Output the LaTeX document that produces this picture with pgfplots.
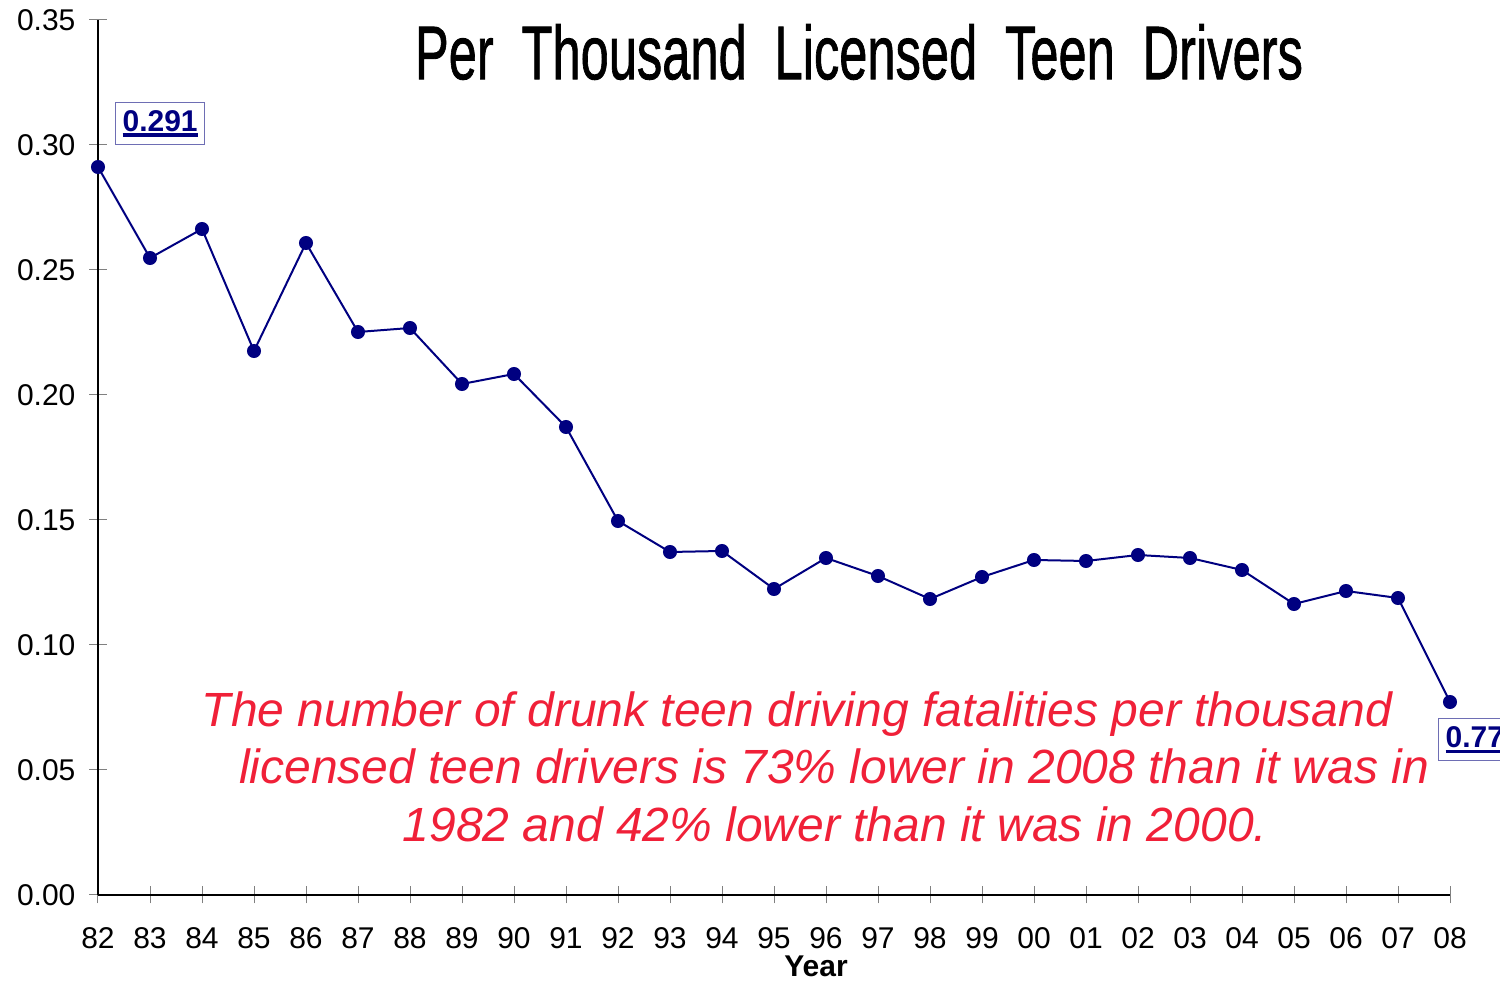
\documentclass[border=0pt]{standalone}
\usepackage{pgfplots}
\pgfplotsset{compat=1.18}
\usepackage{fontspec}
\setmainfont{Liberation Sans}
\definecolor{navyline}{RGB}{0,0,128}
\definecolor{redtxt}{RGB}{240,32,56}
\definecolor{boxedge}{RGB}{110,110,180}
\newcommand\ulb[1]{\setbox0\hbox{#1}\rlap{\raisebox{-2.8pt}{\rule{\wd0}{1.6pt}}}\box0}
\begin{document}
\begin{tikzpicture}
\useasboundingbox (0,0) rectangle (750pt,492pt);
\clip (0,0) rectangle (750pt,492pt);
\begin{axis}[
  at={(49pt,44.5pt)}, anchor=south west,
  scale only axis, width=676pt, height=437.5pt,
  xmin=0, xmax=26, ymin=0, ymax=0.35,
  axis lines*=left,
  axis line style={black, line width=0.6pt, -},
  xtick={0,...,26},
  xticklabels={82,83,84,85,86,87,88,89,90,91,92,93,94,95,96,97,98,99,00,01,02,03,04,05,06,07,08},
  ytick={0,0.05,...,0.35},
  tick align=center,
  major tick length=8.5pt,
  tick style={gray, line width=0.5pt},
  /pgf/number format/assume math mode=true,
  yticklabel style={font=\fontsize{15}{18}\selectfont, /pgf/number format/fixed, /pgf/number format/fixed zerofill, /pgf/number format/precision=2, xshift=-3.5pt},
  xticklabel style={font=\fontsize{15}{18}\selectfont, yshift=-8.5pt},
  clip=false,
]
\addplot[navyline, line width=1pt, mark=*, mark size=3pt, mark options={fill=navyline, draw=navyline}] coordinates {
(0,0.2912) (1,0.2548) (2,0.2664) (3,0.2176) (4,0.2608) (5,0.2252) (6,0.2268) (7,0.2044) (8,0.2084) (9,0.1872)
(10,0.1496) (11,0.1372) (12,0.1376) (13,0.1224) (14,0.1348) (15,0.1276) (16,0.1184) (17,0.1272) (18,0.1340) (19,0.1336)
(20,0.1360) (21,0.1348) (22,0.1300) (23,0.1164) (24,0.1216) (25,0.1188) (26,0.0772)
};
\node[draw=boxedge, fill=white, line width=0.6pt, anchor=south west, inner xsep=3.5pt, minimum height=21pt, text=navyline, font=\fontsize{15}{17}\bfseries\selectfont, xshift=8.5pt, yshift=11pt] at (axis cs:0,0.2912) {\ulb{0.291}};
\node[draw=boxedge, fill=white, line width=0.6pt, anchor=north west, inner xsep=3.5pt, minimum height=21pt, text=navyline, font=\fontsize{15}{17}\bfseries\selectfont, xshift=-6pt, yshift=-8pt] at (axis cs:26,0.0772) {\ulb{0.77}};
\end{axis}
\node at (429.5pt,466pt) {\resizebox{444pt}{27.5pt}{\addfontfeature{FakeBold=1.2}Per\hspace{0.55em}Thousand\hspace{0.55em}Licensed\hspace{0.55em}Teen\hspace{0.55em}Drivers}};
\node[anchor=base, inner sep=1pt, font=\fontsize{15}{17}\bfseries\selectfont] at (408pt,3.6pt) {Year};
\begin{scope}[every node/.style={anchor=base, text=redtxt, font=\fontsize{24}{28}\itshape\selectfont, inner sep=0pt}]
\node at (398.5pt,128.5pt) {The number of drunk teen driving fatalities per thousand};
\node at (417pt,100pt) {licensed teen drivers is 73\% lower in 2008 than it was in};
\node at (417.5pt,71pt) {1982 and 42\% lower than it was in 2000.};
\end{scope}
\end{tikzpicture}
\end{document}
